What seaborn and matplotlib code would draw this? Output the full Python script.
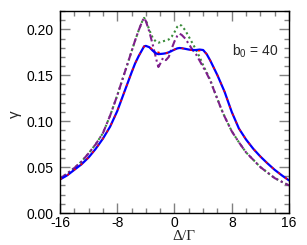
import numpy as np
import pandas as pd
import matplotlib
matplotlib.use("Agg")
import matplotlib.pyplot as plt
import seaborn as sns
from matplotlib.ticker import MultipleLocator, FixedLocator

# ---- data ----
delta = [-16, -15, -14, -13, -12, -11, -10, -9, -8, -7, -6, -5.5, -5, -4.5,
         -4.25, -4, -3.5, -3, -2.5, -2.25, -2, -1.6, -1.2, -0.8, -0.4, 0,
         0.4, 0.7, 1, 1.5, 2, 2.5, 3, 3.5, 4, 4.5, 5, 5.5, 6, 6.5, 7,
         8, 9, 10, 11, 12, 13, 14, 15, 16]

gamma_blue = [0.0365, 0.041, 0.047, 0.053, 0.0605, 0.070, 0.081, 0.094, 0.111,
              0.132, 0.153, 0.163, 0.171, 0.178, 0.1815, 0.182, 0.1805, 0.1765,
              0.1735, 0.173, 0.1732, 0.1735, 0.174, 0.175, 0.1765, 0.178,
              0.1793, 0.1797, 0.1795, 0.1788, 0.178, 0.1775, 0.1775, 0.178,
              0.1775, 0.173, 0.166, 0.158, 0.150, 0.141, 0.132,
              0.110, 0.092, 0.080, 0.070, 0.0615, 0.054, 0.047, 0.041, 0.0355]

gamma_red = [0.0365, 0.041, 0.047, 0.053, 0.0605, 0.070, 0.081, 0.094, 0.111,
             0.132, 0.153, 0.163, 0.171, 0.178, 0.1815, 0.182, 0.181, 0.1775,
             0.1755, 0.175, 0.1745, 0.174, 0.174, 0.175, 0.1765, 0.178,
             0.1793, 0.1797, 0.1795, 0.1785, 0.1778, 0.1772, 0.1765, 0.1768,
             0.1775, 0.173, 0.166, 0.158, 0.150, 0.141, 0.132,
             0.110, 0.092, 0.080, 0.070, 0.0615, 0.054, 0.047, 0.041, 0.0355]

gamma_green = [0.0375, 0.043, 0.049, 0.056, 0.065, 0.075, 0.087, 0.106, 0.128,
               0.152, 0.176, 0.188, 0.199, 0.209, 0.2125, 0.210, 0.199, 0.190,
               0.186, 0.1855, 0.186, 0.187, 0.188, 0.189, 0.192, 0.197,
               0.203, 0.205, 0.204, 0.199, 0.192, 0.185, 0.178, 0.170,
               0.161, 0.153, 0.145, 0.134, 0.124, 0.114, 0.105,
               0.089, 0.077, 0.066, 0.058, 0.050, 0.044, 0.038, 0.034, 0.030]

gamma_purple = [0.0375, 0.043, 0.049, 0.056, 0.065, 0.075, 0.087, 0.106, 0.128,
                0.152, 0.176, 0.188, 0.199, 0.209, 0.2125, 0.209, 0.197, 0.182,
                0.166, 0.159, 0.1625, 0.169, 0.1665, 0.170, 0.179, 0.187,
                0.193, 0.1953, 0.194, 0.190, 0.184, 0.178, 0.173, 0.166,
                0.159, 0.152, 0.144, 0.134, 0.124, 0.114, 0.105,
                0.089, 0.077, 0.066, 0.058, 0.050, 0.044, 0.038, 0.034, 0.030]

x_ticks = [-16, -8, 0, 8, 16]
x_ticklabels = ["-16", "-8", "0", "8", "16"]
y_ticks = [0.00, 0.05, 0.10, 0.15, 0.20]
y_ticklabels = ["0.00", "0.05", "0.10", "0.15", "0.20"]

# ---- style ----
sns.set_theme(style="ticks")
plt.rcParams["font.family"] = ["Liberation Sans", "DejaVu Sans"]
plt.rcParams["mathtext.fontset"] = "custom"
plt.rcParams["mathtext.rm"] = "Liberation Sans"
plt.rcParams["mathtext.it"] = "Liberation Sans"

fig = plt.figure(figsize=(3.07, 2.45), dpi=100)
ax = fig.add_axes([0.1954, 0.1306, 0.746, 0.8245])

sns.lineplot(x=delta, y=gamma_green, ax=ax, color="#3a8c3a", lw=1.5,
             linestyle=(0, (1, 1.4)))
sns.lineplot(x=delta, y=gamma_purple, ax=ax, color="#7f1f8c", lw=1.5,
             linestyle=(0, (3.5, 1.5, 1, 1.5)))
sns.lineplot(x=delta, y=gamma_blue, ax=ax, color="#0000ff", lw=1.6)
sns.lineplot(x=delta, y=gamma_red, ax=ax, color="#ff0000", lw=1.1,
             linestyle=(0, (1.5, 4)))

ax.set_xlim(-16, 16)
ax.set_ylim(0, 0.22)
ax.xaxis.set_major_locator(FixedLocator(x_ticks))
ax.set_xticklabels(x_ticklabels)
ax.xaxis.set_minor_locator(MultipleLocator(2))
ax.yaxis.set_major_locator(FixedLocator(y_ticks))
ax.set_yticklabels(y_ticklabels)
ax.yaxis.set_minor_locator(MultipleLocator(0.01))

ax.tick_params(which="both", direction="in", top=True, right=True,
               color="#808080", width=1.0, labelsize=10, labelcolor="black")
ax.tick_params(which="major", length=7)
ax.tick_params(which="minor", length=3.5)
ax.tick_params(axis="x", which="major", pad=2.5)
ax.tick_params(axis="y", which="major", pad=4.5)
for sp in ax.spines.values():
    sp.set_color("black")
    sp.set_linewidth(1.0)

ax.set_xlabel("Δ/Γ", fontsize=11, family=["Liberation Serif", "DejaVu Serif"],
              va="center")
ax.xaxis.set_label_coords(0.54, -0.118)
ax.set_ylabel("γ", fontsize=11, rotation=90, va="center")
ax.yaxis.set_label_coords(-0.197, 0.49)

ax.text(0.751, 0.80, "b$_0$ = 40", transform=ax.transAxes, fontsize=10,
        ha="left", va="center")

fig.savefig("out.png", dpi=100)
